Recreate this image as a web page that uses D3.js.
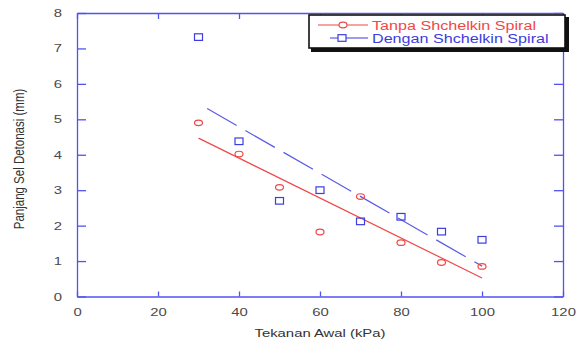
<!DOCTYPE html>
<html>
<head>
<meta charset="utf-8">
<script src="https://cdn.jsdelivr.net/npm/d3@7"></script>
<style>
  body { margin: 0; background: #fff; }
  svg { display: block; font-family: "Liberation Sans", Arial, sans-serif; }
</style>
</head>
<body>
<script>
// data
var pressure = [30, 40, 50, 60, 70, 80, 90, 100];            // Tekanan Awal (kPa)
var tanpa = [4.9, 4.02, 3.08, 1.82, 2.82, 1.52, 0.96, 0.85];   // Tanpa Shchelkin Spiral
var dengan = [7.32, 4.38, 2.7, 3.0, 2.12, 2.25, 1.83, 1.6];    // Dengan Shchelkin Spiral
var xTicks = [0, 20, 40, 60, 80, 100, 120];
var yTicks = [0, 1, 2, 3, 4, 5, 6, 7, 8];
var seriesNames = ["Tanpa Shchelkin Spiral", "Dengan Shchelkin Spiral"];

var width = 579, height = 342;
var margin = {top: 13, right: 16, bottom: 45.5, left: 77};
var stretch = 1.35;   // the picture is squeezed wide
var axisColor = "#5252f2", red = "#f04848", blue = "#3c3ce0";

var svg = d3.select("body").append("svg")
  .attr("width", width)
  .attr("height", height);

var x = d3.scaleLinear().domain([0, 120]).range([margin.left, width - margin.right]);
var y = d3.scaleLinear().domain([0, 8]).range([height - margin.bottom, margin.top]);

// least squares fit line
function fit(xs, ys){
  var mx = d3.mean(xs), my = d3.mean(ys);
  var sxy = d3.sum(xs, function(v, i){ return (v - mx) * (ys[i] - my); });
  var sxx = d3.sum(xs, function(v){ return (v - mx) * (v - mx); });
  var b = sxy / sxx;
  return function(v){ return my + b * (v - mx); };
}

// axes
var gx = svg.append("g")
  .attr("transform", "translate(0," + y(0) + ")")
  .call(d3.axisBottom(x).tickValues(xTicks).tickSize(-5).tickSizeOuter(0).tickPadding(12));
var gy = svg.append("g")
  .attr("transform", "translate(" + x(0) + ",0)")
  .call(d3.axisLeft(y).tickValues(yTicks).tickSize(-9).tickSizeOuter(0).tickPadding(15));
var gt = svg.append("g")
  .attr("transform", "translate(0," + y(8) + ")")
  .call(d3.axisTop(x).tickValues(xTicks).tickSize(-6).tickSizeOuter(0).tickFormat(""));
var gr = svg.append("g")
  .attr("transform", "translate(" + x(120) + ",0)")
  .call(d3.axisRight(y).tickValues(yTicks).tickSize(-9).tickSizeOuter(0).tickFormat(""));

[gx, gy, gt, gr].forEach(function(g){
  g.selectAll("path, line").attr("stroke", axisColor).attr("stroke-width", 1.3);
  g.selectAll("text")
    .attr("fill", "#4a4a4a")
    .style("font-size", "11px")
    .style("font-family", "'Liberation Sans', Arial, sans-serif");
});
svg.selectAll("g text").each(function(){
  var w = this.getComputedTextLength();
  if (w > 0) d3.select(this).attr("textLength", w * stretch).attr("lengthAdjust", "spacingAndGlyphs");
});

// axis titles
svg.append("text")
  .attr("x", (x(0) + x(120)) / 2)
  .attr("y", 337)
  .attr("text-anchor", "middle")
  .attr("fill", "#333")
  .style("font-size", "11px")
  .text("Tekanan Awal (kPa)")
  .each(function(){
    d3.select(this).attr("textLength", this.getComputedTextLength() * stretch).attr("lengthAdjust", "spacingAndGlyphs");
  });

svg.append("text")
  .attr("transform", "translate(24,159) scale(" + stretch + ",1) rotate(-90)")
  .attr("text-anchor", "middle")
  .attr("fill", "#333")
  .style("font-size", "11.5px")
  .text("Panjang Sel Detonasi (mm)");

// fit lines
var fitT = fit(pressure, tanpa), fitD = fit(pressure, dengan);
var x0 = d3.min(pressure), x1 = d3.max(pressure);
var line = d3.line().x(function(d){ return x(d[0]); }).y(function(d){ return y(d[1]); });

svg.append("path")
  .attr("d", line([[x0, fitT(x0)], [x1, fitT(x1)]]))
  .attr("fill", "none").attr("stroke", red).attr("stroke-width", 1.2);
svg.append("path")
  .attr("d", line([[x0, fitD(x0)], [x1, fitD(x1)]]))
  .attr("fill", "none").attr("stroke", "#5a5ae8").attr("stroke-width", 1.2)
  .attr("stroke-dasharray", "34,10").attr("stroke-dashoffset", -10);

// markers
svg.selectAll(".tanpa")
  .data(pressure)
  .enter()
  .append("ellipse")
  .attr("class", "tanpa")
  .attr("cx", function(d){ return x(d); })
  .attr("cy", function(d, i){ return y(tanpa[i]); })
  .attr("rx", 4).attr("ry", 2.8)
  .attr("fill", "none").attr("stroke", red).attr("stroke-width", 1.2);

svg.selectAll(".dengan")
  .data(pressure)
  .enter()
  .append("rect")
  .attr("class", "dengan")
  .attr("x", function(d){ return x(d) - 4; })
  .attr("y", function(d, i){ return y(dengan[i]) - 3.3; })
  .attr("width", 8).attr("height", 6.6)
  .attr("fill", "none").attr("stroke", blue).attr("stroke-width", 1.2);

// legend
var lg = svg.append("g");
lg.append("rect").attr("x", 311).attr("y", 17).attr("width", 258).attr("height", 35).attr("fill", "#111");
lg.append("rect").attr("x", 309).attr("y", 15).attr("width", 256).attr("height", 33)
  .attr("fill", "#fff").attr("stroke", "#111").attr("stroke-width", 1.6);

var legendRows = [
  {name: seriesNames[0], color: red, x1: 318, ly: 25},
  {name: seriesNames[1], color: blue, x1: 330, ly: 38}
];
legendRows.forEach(function(r, i){
  lg.append("line").attr("x1", r.x1).attr("x2", 368).attr("y1", r.ly).attr("y2", r.ly)
    .attr("stroke", r.color).attr("stroke-width", 1.2);
  if (i == 0){
    lg.append("ellipse").attr("cx", 343).attr("cy", r.ly).attr("rx", 4).attr("ry", 2.8)
      .attr("fill", "#fff").attr("stroke", r.color).attr("stroke-width", 1.2);
  } else {
    lg.append("rect").attr("x", 338).attr("y", r.ly - 3.3).attr("width", 8).attr("height", 6.6)
      .attr("fill", "#fff").attr("stroke", r.color).attr("stroke-width", 1.2);
  }
  lg.append("text").attr("x", 372).attr("y", r.ly + 4.5)
    .attr("fill", r.color)
    .style("font-size", "12.5px")
    .text(r.name)
    .each(function(){
      d3.select(this).attr("textLength", this.getComputedTextLength() * 1.29).attr("lengthAdjust", "spacingAndGlyphs");
    });
});
</script>
</body>
</html>
